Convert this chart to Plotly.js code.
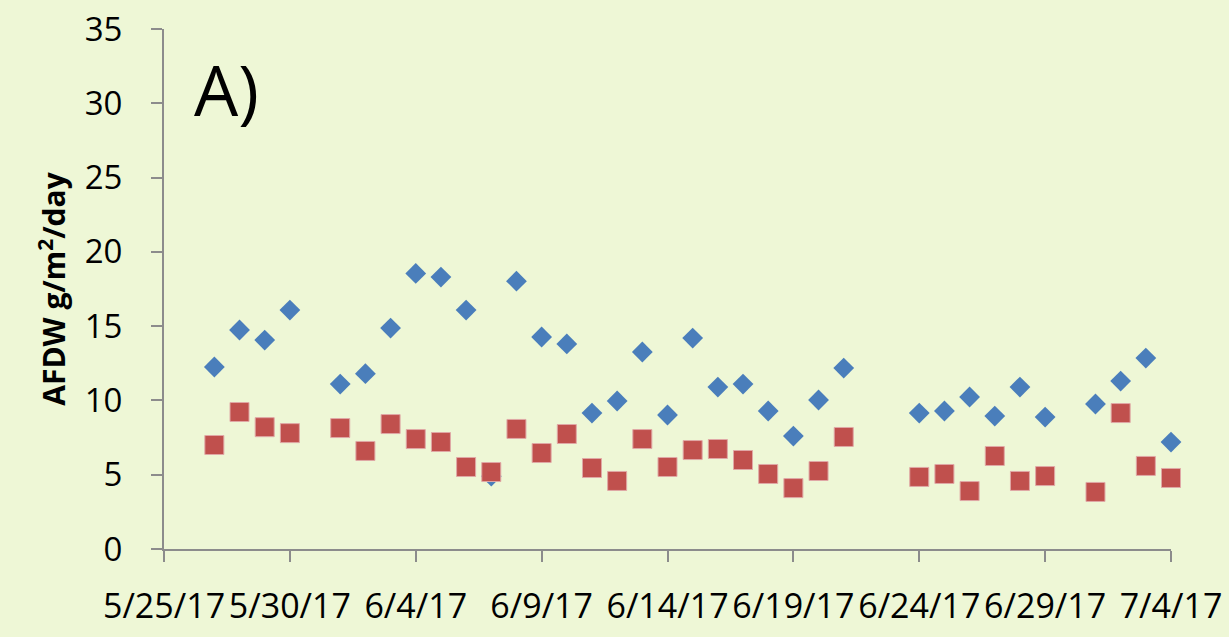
<!DOCTYPE html>
<html>
<head>
<meta charset="utf-8">
<script src="https://cdn.plot.ly/plotly-3.0.1.min.js"></script>
<style>html,body{margin:0;padding:0;background:#EEF7D6;}#chart{width:1229px;height:637px;}</style>
</head>
<body>
<div id="chart"></div>
<script>
const blueDates = ['2017-05-27','2017-05-28','2017-05-29','2017-05-30','2017-06-01','2017-06-02','2017-06-03','2017-06-04','2017-06-05','2017-06-06','2017-06-07','2017-06-08','2017-06-09','2017-06-10','2017-06-11','2017-06-12','2017-06-13','2017-06-14','2017-06-15','2017-06-16','2017-06-17','2017-06-18','2017-06-19','2017-06-20','2017-06-21','2017-06-24','2017-06-25','2017-06-26','2017-06-27','2017-06-28','2017-06-29','2017-07-01','2017-07-02','2017-07-03','2017-07-04'];
const blueValues = [12.25,14.74,14.06,16.08,11.1,11.8,14.87,18.55,18.3,16.08,4.9,18.03,14.27,13.8,9.15,9.96,13.26,9.02,14.2,10.9,11.1,9.29,7.6,10.03,12.18,9.15,9.29,10.23,8.95,10.9,8.88,9.76,11.3,12.85,7.2];
const redDates = blueDates;
const redValues = [7.0,9.22,8.2,7.8,8.14,6.6,8.41,7.4,7.2,5.52,5.18,8.08,6.46,7.74,5.45,4.58,7.4,5.52,6.66,6.73,5.99,5.05,4.1,5.25,7.54,4.85,5.05,3.9,6.26,4.58,4.91,3.84,9.15,5.59,4.78];
const tickDates = ['2017-05-25','2017-05-30','2017-06-04','2017-06-09','2017-06-14','2017-06-19','2017-06-24','2017-06-29','2017-07-04'];
const tickLabels = ['5/25/17','5/30/17','6/4/17','6/9/17','6/14/17','6/19/17','6/24/17','6/29/17','7/4/17'];
const yTicks = [0,5,10,15,20,25,30,35];

const axisColor = '#8C8C8C';
const data = [
  {x: blueDates, y: blueValues, type: 'scatter', mode: 'markers', cliponaxis: false,
   marker: {symbol: 'diamond', size: 16, color: '#4A7EBB', line: {width: 0}}},
  {x: redDates, y: redValues, type: 'scatter', mode: 'markers', cliponaxis: false,
   marker: {symbol: 'square', size: 19, color: '#C0504D', line: {width: 1, color: '#E0A8A6'}}}
];
const layout = {
  width: 1229, height: 637,
  paper_bgcolor: '#EEF7D6', plot_bgcolor: '#EEF7D6',
  showlegend: false,
  margin: {l: 164, r: 58, t: 29, b: 88},
  font: {family: 'Open Sans, sans-serif', color: '#000'},
  xaxis: {
    type: 'date', range: ['2017-05-25','2017-07-04'],
    tickvals: tickDates, ticktext: tickLabels,
    showgrid: false, zeroline: false, showline: true, linecolor: axisColor, linewidth: 2,
    ticks: 'outside', ticklen: 11, tickwidth: 2, tickcolor: axisColor,
    ticklabelstandoff: 15,
    tickfont: {size: 34, family: 'Open Sans, sans-serif'}
  },
  yaxis: {
    range: [0, 35], tickvals: yTicks, ticktext: yTicks.map(String),
    showgrid: false, zeroline: false, showline: true, linecolor: axisColor, linewidth: 2,
    ticks: 'outside', ticklen: 11, tickwidth: 2, tickcolor: axisColor,
    ticklabelstandoff: 22,
    tickfont: {size: 33, family: 'Open Sans, sans-serif'},
    title: {text: '<b>AFDW g/m<sup>2</sup>/day</b>', font: {size: 30, family: 'Open Sans, sans-serif'}, standoff: 10}
  },
  annotations: [{
    text: 'A)', xref: 'paper', yref: 'paper', x: 0.028, y: 0.885,
    xanchor: 'left', yanchor: 'middle', showarrow: false,
    font: {size: 70, family: 'Open Sans, sans-serif', color: '#000'}
  }]
};
Plotly.newPlot('chart', data, layout, {displayModeBar: false, staticPlot: true});
</script>
</body>
</html>
